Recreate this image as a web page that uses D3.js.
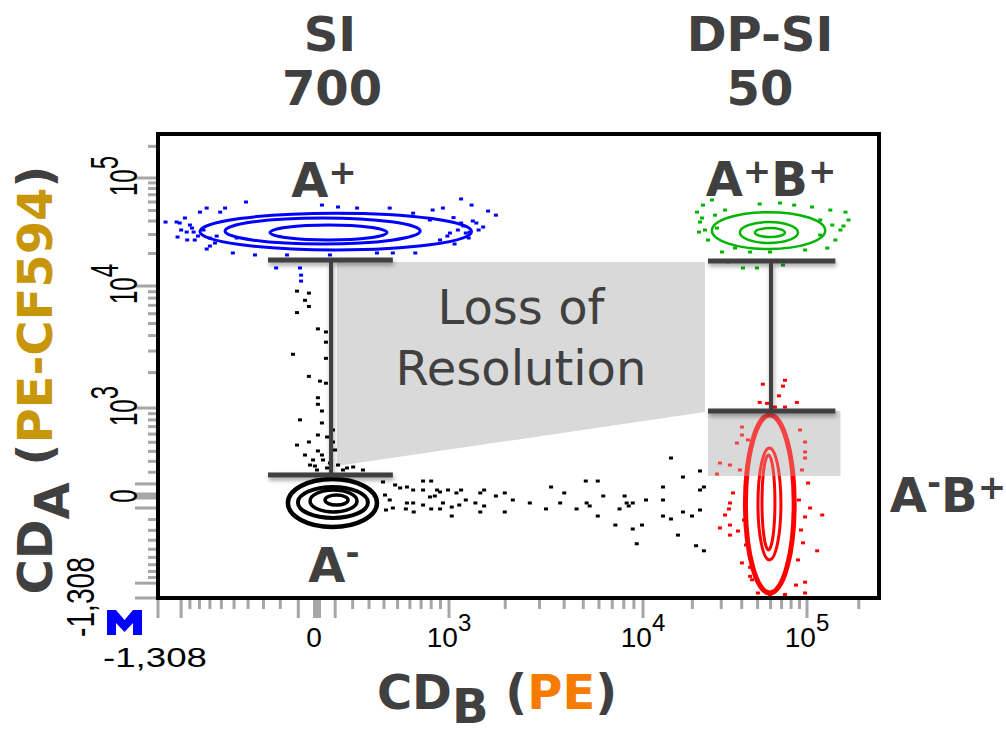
<!DOCTYPE html>
<html>
<head>
<meta charset="utf-8">
<script src="https://cdn.jsdelivr.net/npm/d3@7"></script>
<style>
body { margin: 0; background: #fff; }
svg { display: block; }
</style>
</head>
<body>
<svg id="chart" width="1006" height="733"></svg>
<script>
// ---- axis values (biexponential display, both axes) ----
var axisAnchors = [-1308, 0, 1e3, 1e4, 1e5, 262144];
var decadeTicks = [1e3, 1e4, 1e5];
var decadeExp = ["3", "4", "5"];
var longTicks = [-1308, -1000, -100, 100, 1e3, 1e4, 1e5];
var minorTicks = [-900, -800, -700, -600, -500, -400, -300, -200,
  200, 300, 400, 500, 600, 700, 800, 900,
  2000, 3000, 4000, 5000, 6000, 7000, 8000, 9000,
  20000, 30000, 40000, 50000, 60000, 70000, 80000, 90000, 200000];

// ---- populations: contour rings [xLo, xHi, yLo, yHi] and events [CD_B, CD_A] ----
var blackRings = [[-157, 352, -268, 141], [-102, 293, -186, 74], [-37, 226, -134, 49], [44, 173, -75, 8]];
var blueRings = [[-795, 1330, 21550, 47270], [-570, 692, 24490, 42620], [-260, 421, 26660, 36700]];
var greenRings = [[26330, 127600, 22010, 48300], [38980, 88100, 25010, 39110], [48110, 73410, 28410, 34400]];
var redRings = [[42130, 83540, -1196, 877], [50240, 69340, -634, 436], [53170, 63760, -508, 362]];

var blackDots = [
  [-107, 9100], [-43, 8770], [-43, 6860], [-107, 6120], [5, 4530], [49, 4280], [49, 3540], [-129, 2825],
  [49, 2618], [-43, 1863], [49, 1634], [5, 1231], [5, 1079], [27, 946], [27, 753], [5, 588], [-43, 503],
  [-107, 468], [5, 404], [-21, 313], [33, 313], [27, 362], [55, 563], [88, 654], [88, 503], [99, 414],
  [0, 220], [55, 238], [167, 238], [203, 247], [262, 220], [-64, 7680], [16, 1700], [-91, 800], [-37, 265],
  [-64, 362], [71, 284], [116, 265], [144, 220], [-11, 256],
  [719, 124], [800, 124], [393, 116], [520, 66], [575, 74], [628, 49], [719, 49], [862, 49], [895, 33],
  [988, 49], [1100, 25], [1167, 49], [787, -8], [838, 0], [1238, -33], [1480, 25], [1551, 49], [1788, 0],
  [1989, 25], [2188, -33], [3434, 74], [4005, 25], [5147, 124], [5917, 124], [6307, 0], [8080, 0],
  [10430, -33], [13240, 74], [13240, -33], [14810, 332], [17530, 158], [22270, 211], [22270, 49],
  [23530, 74], [2676, -58], [3818, -58], [5199, -58], [5385, -83], [8275, -58], [8880, -58], [8475, -83],
  [575, -58], [628, -58], [719, -75], [928, -58], [1036, -92], [1140, -75], [1394, -58], [1551, -83],
  [566, -108], [633, -134], [800, -108], [895, -108], [1480, -134], [1989, -134], [1036, -169],
  [3236, -108], [4624, -108], [7619, -108], [5917, -169], [13240, -169], [14810, -195], [17530, -134],
  [19900, -169], [22270, -117], [7257, -250], [8880, -287], [9882, -250], [16340, -347], [9300, -438],
  [21070, -460], [23530, -519], [407, 8], [441, -33], [414, -117], [481, 91], [464, -100]
];
var blueDots = [
  [-1200, 39100], [-730, 52700], [-570, 52700], [-414, 59900], [27, 56150], [116, 53900], [226, 52700],
  [441, 52700], [928, 52700], [1167, 63970], [1330, 56150], [1788, 45300], [1627, 49380], [1533, 35180],
  [1410, 38300], [1167, 38300], [1012, 30940], [1238, 30940], [-730, 22010], [-509, 20220], [-354, 19390],
  [-162, 19390], [71, 19390], [352, 20220], [464, 20220], [647, 20220], [-1043, 28410], [-936, 31590],
  [-1017, 38300], [-848, 26660], [-655, 25000], [-795, 48300], [-610, 48300], [815, 50500], [628, 47270],
  [-1055, 39110], [-91, 14700], [-85, 12600], [-85, 11100], [-224, 14700], [-878, 34400], [-815, 29010],
  [-700, 23440], [-480, 27830], [-956, 42620], [895, 26660], [1074, 24490], [1283, 27830], [787, 40860],
  [-900, 36700], [-860, 31590], [-760, 33000], [-700, 27800], [-640, 29000], [-930, 26700], [-1000, 33000],
  [1060, 43000], [1120, 33000], [1200, 36000], [1350, 40000], [980, 29000], [1300, 31500], [1450, 33000]
];
var greenDots = [
  [21350, 48300], [22270, 39110], [21940, 31590], [23200, 56150], [24900, 26660], [26330, 62600],
  [28260, 34400], [30330, 20650], [32970, 16690], [40680, 14680], [49530, 14680], [71360, 15650],
  [68400, 58650], [83540, 56150], [107000, 53900], [136600, 50500], [167400, 48300], [174300, 40860],
  [156500, 32990], [146200, 26660], [131200, 22470], [97330, 21550], [59480, 20650], [44980, 20650],
  [36400, 22470], [23870, 32990], [27490, 45300], [31640, 50500], [51470, 57400], [119300, 40860],
  [140300, 36700], [22900, 42620], [119300, 29660], [163000, 35940]
];
var redDots = [
  [73410, 1728], [53830, 1603], [71360, 1544], [67440, 1278], [86770, 1120], [51470, 1120], [57000, 1099],
  [73410, 1019], [40110, 694], [40110, 588], [37390, 491], [29460, 284], [28260, 184], [33910, 265],
  [97330, 503], [97330, 394], [97330, 332], [101400, 107], [35390, 25], [33910, -58], [33440, -108],
  [31640, -160], [104200, -100], [122600, -160], [97330, -177], [29460, -277], [33910, -250], [37930, -307],
  [33910, -347], [94560, -428], [114600, -519], [40110, -675], [44980, -738], [44980, -880], [97330, -982],
  [97330, -1196], [50240, -1196], [63760, 1019], [43650, 528], [38980, 220], [42130, -33], [41300, -204],
  [42460, -451], [46240, -939], [90690, 654], [93200, 220], [89300, -33], [91900, -297], [88100, -634],
  [85700, -1036], [59480, -1260], [73410, -1230]
];

// ---- gates and shaded areas ----
var gateSI = [-272, 464, 77, 17410, 176];        // xLo, xHi, xStem, yTop, yBottom
var gateDP = [24900, 146200, 60320, 17040, 946];
var lossArea = [[110, 16690], [23870, 16690], [23870, 929], [110, 256]];
var dpBox = [24900, 156500, 167, 946];           // xLo, xHi, yLo, yHi

var ink = "#404040";
var tickGray = "#a6a6a6";

var svg = d3.select("#chart");
var defs = svg.append("defs");

// asinh transform, calibrated per decade
var tf = function(v) { return Math.asinh(v / 500); };
var xs = d3.scaleLinear().domain(axisAnchors.map(tf)).range([158, 317, 449, 643, 807, 879]);
var ys = d3.scaleLinear().domain(axisAnchors.map(tf)).range([598, 496, 408, 286, 178, 134]);
var X = function(v) { return xs(tf(v)); };
var Y = function(v) { return ys(tf(v)); };

var plotL = X(-1308), plotR = X(262144), plotT = Y(262144), plotB = Y(-1308);

var shadow = defs.append("filter").attr("id", "shadow")
    .attr("filterUnits", "userSpaceOnUse")
    .attr("x", 0).attr("y", 0).attr("width", 1006).attr("height", 733);
shadow.append("feDropShadow").attr("dx", 1).attr("dy", 3).attr("stdDeviation", 2)
    .attr("flood-color", "#000").attr("flood-opacity", 0.35);

defs.append("clipPath").attr("id", "boxclip").append("rect")
    .attr("x", X(dpBox[0])).attr("y", Y(dpBox[3]))
    .attr("width", X(dpBox[1]) - X(dpBox[0])).attr("height", Y(dpBox[2]) - Y(dpBox[3]));

// loss of resolution band (under the events)
svg.append("path")
    .attr("d", d3.line().x(function(d) { return X(d[0]); }).y(function(d) { return Y(d[1]); })(lossArea) + "Z")
    .attr("fill", "#d9d9d9");

function drawPop(g, rings, dots, color, widths) {
  g.selectAll("ellipse").data(rings).enter().append("ellipse")
      .attr("cx", function(d) { return (X(d[0]) + X(d[1])) / 2; })
      .attr("cy", function(d) { return (Y(d[2]) + Y(d[3])) / 2; })
      .attr("rx", function(d) { return Math.abs(X(d[1]) - X(d[0])) / 2; })
      .attr("ry", function(d) { return Math.abs(Y(d[2]) - Y(d[3])) / 2; })
      .attr("fill", "none")
      .attr("stroke", color)
      .attr("stroke-width", function(d, i) { return widths[i]; });
  g.selectAll("rect").data(dots).enter().append("rect")
      .attr("x", function(d) { return X(d[0]) - 2; })
      .attr("y", function(d) { return Y(d[1]) - 1.5; })
      .attr("width", 4).attr("height", 3)
      .attr("fill", color);
}

drawPop(svg.append("g"), blackRings, blackDots, "#000", [4.5, 4, 3.5, 3.5]);
drawPop(svg.append("g"), blueRings, blueDots, "#0000ff", [3, 3, 3]);
drawPop(svg.append("g"), greenRings, greenDots, "#00b400", [2.5, 2.5, 2.5]);
drawPop(svg.append("g"), redRings, redDots, "#ff0000", [5, 3, 3]);

// DP-SI box over the red events, red shows through muted
svg.append("rect")
    .attr("x", X(dpBox[0])).attr("y", Y(dpBox[3]))
    .attr("width", X(dpBox[1]) - X(dpBox[0])).attr("height", Y(dpBox[2]) - Y(dpBox[3]))
    .attr("fill", "#d9d9d9");
drawPop(svg.append("g").attr("clip-path", "url(#boxclip)").attr("opacity", 0.7),
    redRings, redDots, "#ff0000", [5, 3, 3]);

// gate bars
function drawGate(gt) {
  var g = svg.append("g").attr("filter", "url(#shadow)").attr("fill", ink);
  g.append("rect").attr("x", X(gt[2]) - 2).attr("y", Y(gt[3])).attr("width", 4).attr("height", Y(gt[4]) - Y(gt[3]));
  g.append("rect").attr("x", X(gt[0])).attr("y", Y(gt[3]) - 2.5).attr("width", X(gt[1]) - X(gt[0])).attr("height", 5);
  g.append("rect").attr("x", X(gt[0])).attr("y", Y(gt[4]) - 2.5).attr("width", X(gt[1]) - X(gt[0])).attr("height", 5);
}
drawGate(gateSI);
drawGate(gateDP);

// plot frame
svg.append("rect")
    .attr("x", plotL).attr("y", plotT).attr("width", plotR - plotL).attr("height", plotB - plotT)
    .attr("fill", "none").attr("stroke", "#000").attr("stroke-width", 4);

// ticks
var ticks = svg.append("g").attr("stroke", tickGray);
ticks.selectAll(".xm").data(minorTicks).enter().append("line")
    .attr("x1", X).attr("x2", X).attr("y1", plotB + 2).attr("y2", plotB + 11).attr("stroke-width", 3);
ticks.selectAll(".xl").data(longTicks).enter().append("line")
    .attr("x1", X).attr("x2", X).attr("y1", plotB + 2).attr("y2", plotB + 20).attr("stroke-width", 3);
ticks.append("line").attr("x1", X(0)).attr("x2", X(0)).attr("y1", plotB + 2).attr("y2", plotB + 20).attr("stroke-width", 8);
ticks.selectAll(".ym").data(minorTicks).enter().append("line")
    .attr("y1", Y).attr("y2", Y).attr("x1", plotL - 2).attr("x2", plotL - 10).attr("stroke-width", 3);
ticks.selectAll(".yl").data(longTicks).enter().append("line")
    .attr("y1", Y).attr("y2", Y).attr("x1", plotL - 2).attr("x2", plotL - 23).attr("stroke-width", 3);
ticks.append("line").attr("y1", Y(0)).attr("y2", Y(0)).attr("x1", plotL - 2).attr("x2", plotL - 23).attr("stroke-width", 7);

// tick labels
var tickFont = "'Liberation Sans', Arial, sans-serif";
var xl = svg.append("g").attr("font-family", tickFont).attr("fill", "#000").attr("text-anchor", "middle");
xl.append("text").attr("x", X(0) - 3).attr("y", 647).attr("font-size", 28).text("0");
decadeTicks.forEach(function(v, i) {
  var t = xl.append("text").attr("x", X(v)).attr("y", 647).attr("font-size", 28);
  t.append("tspan").text("10");
  t.append("tspan").attr("dy", -16).attr("font-size", 24).text(decadeExp[i]);
});
xl.append("text").attr("x", X(-1308) - 3).attr("y", 667).attr("font-size", 28)
    .attr("textLength", 104).attr("lengthAdjust", "spacingAndGlyphs").text("-1,308");

var yl = svg.append("g").attr("font-family", tickFont).attr("fill", "#000").attr("text-anchor", "middle");
yl.append("text").attr("transform", "translate(137," + Y(0) + ") rotate(-90) scale(1,1.6)")
    .attr("font-size", 24).text("0");
decadeTicks.forEach(function(v, i) {
  var t = yl.append("text").attr("transform", "translate(137," + (Y(v) - 2) + ") rotate(-90) scale(1,1.6)")
      .attr("font-size", 24);
  t.append("tspan").text("10");
  t.append("tspan").attr("dy", -12).text(decadeExp[i]);
});
yl.append("text").attr("transform", "translate(94," + (Y(-1308) - 1) + ") rotate(-90) scale(1,1.6)")
    .attr("font-size", 24).attr("textLength", 80).attr("lengthAdjust", "spacingAndGlyphs").text("-1,308");

// corner icon (blocky M)
svg.append("path")
    .attr("d", "M107,635V610h9l8.5,10l8.5,-10h9V635h-9V623l-8.5,9l-8.5,-9V635Z")
    .attr("fill", "#0000ff");

// titles and annotations
var bold = svg.append("g").attr("font-family", "'DejaVu Sans', Verdana, sans-serif")
    .attr("font-weight", "bold").attr("fill", ink).attr("text-anchor", "middle").attr("font-size", 48);
bold.append("text").attr("x", 330).attr("y", 51).text("SI");
bold.append("text").attr("x", 332).attr("y", 105).text("700");
bold.append("text").attr("x", 760).attr("y", 51).text("DP-SI");
bold.append("text").attr("x", 760).attr("y", 105).text("50");

function popLabel(x, y, parts) {
  var t = bold.append("text").attr("x", x).attr("y", y);
  var shift = 0;
  parts.forEach(function(p) {
    var s = t.append("tspan").text(p[0]);
    var target = p[1] ? p[1] : 0;
    if (target !== shift) { s.attr("dy", target - shift); shift = target; }
    if (p[1]) s.attr("font-size", 34);
  });
}
popLabel(324, 197, [["A"], ["+", -13]]);
popLabel(771, 196, [["A"], ["+", -13], ["B"], ["+", -13]]);
popLabel(334, 582, [["A"], ["-", -18]]);
popLabel(948, 512, [["A"], ["-", -18], ["B"], ["+", -13]]);

var xt = bold.append("text").attr("x", 497).attr("y", 709);
xt.append("tspan").text("CD");
xt.append("tspan").attr("dy", 14).text("B");
xt.append("tspan").attr("dy", -14).text(" (");
xt.append("tspan").attr("fill", "#f57c00").text("PE");
xt.append("tspan").text(")");

var yt = bold.append("text").attr("transform", "translate(52,380) rotate(-90)");
yt.append("tspan").text("CD");
yt.append("tspan").attr("dy", 17).text("A");
yt.append("tspan").attr("dy", -17).text(" (");
yt.append("tspan").attr("fill", "#c8960a").text("PE-CF594");
yt.append("tspan").text(")");

var loss = svg.append("g").attr("font-family", "'DejaVu Sans', Verdana, sans-serif")
    .attr("fill", ink).attr("text-anchor", "middle").attr("font-size", 48);
loss.append("text").attr("x", 521).attr("y", 324).text("Loss of");
loss.append("text").attr("x", 521).attr("y", 385).text("Resolution");
</script>
</body>
</html>
